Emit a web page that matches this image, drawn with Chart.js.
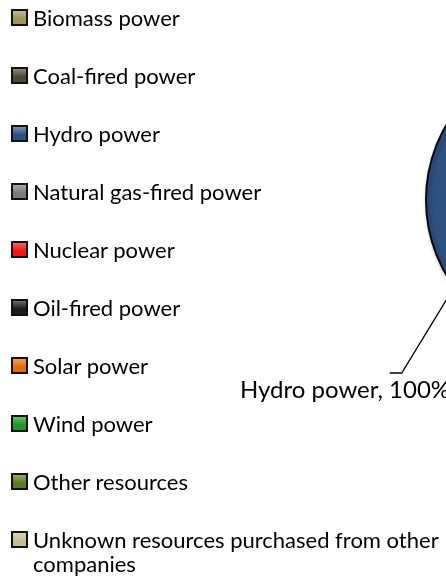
<!DOCTYPE html>
<html><head><meta charset="utf-8">
<script src="https://cdn.jsdelivr.net/npm/chart.js@4.4.0/dist/chart.umd.min.js"></script>
<style>
html,body{margin:0;padding:0;width:446px;height:580px;overflow:hidden;background:#fff;}
#wrap{position:absolute;left:0;top:0;width:760px;height:580px;}
#legend{position:absolute;left:0;top:0;width:446px;height:580px;font-family:Lato,'Open Sans',sans-serif;font-size:22px;color:#000;}
.item{position:absolute;left:11px;display:flex;align-items:flex-start;}
.box{box-sizing:border-box;width:17px;height:17px;border:2px solid #111;margin-top:3.5px;flex:none;}
.txt{margin-left:5px;line-height:24px;width:414px;}
</style></head>
<body>
<div id="wrap"><canvas id="c" width="760" height="580"></canvas></div>
<div id="legend"></div>
<script>
const categories = ['Biomass power','Coal-fired power','Hydro power','Natural gas-fired power','Nuclear power','Oil-fired power','Solar power','Wind power','Other resources','Unknown resources purchased from other companies'];
const shares = [0,0,100,0,0,0,0,0,0,0];
const colors = ['#9d955c','#4d4935','#2f5180','#7a7a7a','#f01515','#1c1c1c','#e46c0a','#1e9628','#5f7a26','#c4bd97'];

const shadowPlugin = {
  id:'shadow',
  beforeDatasetDraw(chart){
    const ctx = chart.ctx; ctx.save();
    ctx.shadowColor='rgba(0,0,0,0.35)'; ctx.shadowBlur=5; ctx.shadowOffsetX=2; ctx.shadowOffsetY=2;
  },
  afterDatasetDraw(chart){ chart.ctx.restore(); }
};

const labelPlugin = {
  id:'hydroLabel',
  afterDatasetsDraw(chart){
    const meta = chart.getDatasetMeta(0);
    const ctx = chart.ctx;
    meta.data.forEach((arc,i)=>{
      const v = shares[i]; if(!v) return;
      const p = arc.getProps(['x','y','outerRadius'],true);
      const ang = 144.2*Math.PI/180;
      const ex = p.x + p.outerRadius*Math.cos(ang), ey = p.y + p.outerRadius*Math.sin(ang);
      const kx = p.x - 173.3, ky = p.y + 173;
      ctx.save();
      ctx.strokeStyle='#000'; ctx.lineWidth=1.3;
      ctx.beginPath(); ctx.moveTo(ex,ey); ctx.lineTo(kx,ky); ctx.lineTo(kx-12,ky); ctx.stroke();
      ctx.font='24px Lato'; ctx.fillStyle='#000'; ctx.textBaseline='middle'; ctx.textAlign='left';
      ctx.fillText(categories[i]+', '+v+'%', p.x-335, p.y+190);
      ctx.restore();
    });
  }
};

const chart = new Chart(document.getElementById('c'), {
  type:'pie',
  data:{ labels:categories, datasets:[{ data:shares, backgroundColor:colors,
    borderColor:'#0a0a0a', borderWidth:c=>c.raw>0?2:0, offset:0, hoverOffset:0 }]},
  options:{
    responsive:false, animation:false, events:[],
    layout:{padding:{left:425,top:50,right:35,bottom:230}},
    plugins:{legend:{display:false}, tooltip:{enabled:false}}
  },
  plugins:[shadowPlugin,labelPlugin]
});

// HTML legend built from the chart's own legend items (allows text wrapping)
const items = chart.options.plugins.legend.labels.generateLabels(chart);
const leg = document.getElementById('legend');
items.forEach((it,i)=>{
  const d = document.createElement('div'); d.className='item';
  d.style.top = (17.5 + 58*i - 12) + 'px';
  const b = document.createElement('span'); b.className='box';
  b.style.background = 'linear-gradient(to bottom, rgba(255,255,255,0.35), rgba(255,255,255,0) 60%), ' + it.fillStyle;
  const t = document.createElement('span'); t.className='txt'; t.textContent = it.text;
  d.appendChild(b); d.appendChild(t); leg.appendChild(d);
});
</script>
</body></html>
